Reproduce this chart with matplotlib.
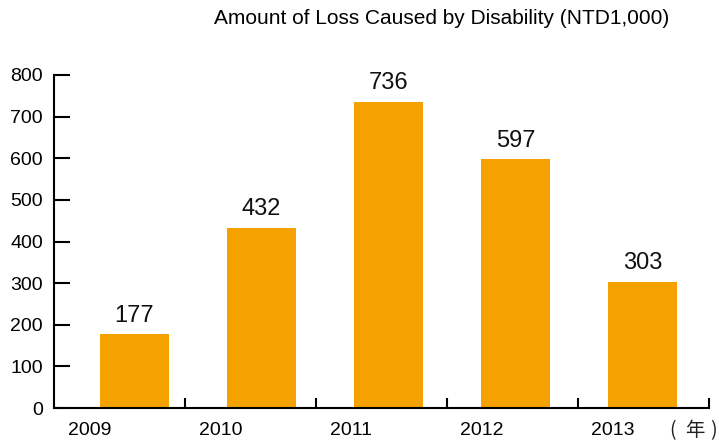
import matplotlib.pyplot as plt

years = ["2009", "2010", "2011", "2012", "2013"]
loss = [177, 432, 736, 597, 303]

plt.rcParams['font.family'] = ['Liberation Sans', 'DejaVu Sans']

fig = plt.figure(figsize=(7.19, 4.45), dpi=100)
ax = fig.add_axes([0.0751, 0.0831, 0.9103, 0.7484])

# bars sit a bit narrower than the category boxes, as in the original
bar_x = [0.6145 + 0.971 * i for i in range(len(years))]
ax.bar(bar_x, loss, width=0.527, color="#F5A100")

for x, v in zip(bar_x, loss):
    ax.text(x, v + 45, str(v), ha="center", va="center", fontsize=17, color="#111111")

ax.set_xlim(0, 5)
ax.set_ylim(0, 800)
ax.set_yticks(range(0, 801, 100))
ax.set_xticks([1, 2, 3, 4, 5])
ax.set_xticklabels([])

for s in ["top", "right"]:
    ax.spines[s].set_visible(False)
for s in ["left", "bottom"]:
    ax.spines[s].set_linewidth(1.5)

ax.tick_params(axis="y", direction="in", length=11.5, width=1.5, pad=8, labelsize=14)
ax.tick_params(axis="x", direction="in", length=7, width=1.5)

for i, y in enumerate(years):
    ax.text((0.271 + i) / 5, -0.068, y, transform=ax.transAxes,
            ha="center", va="center", fontsize=14)

# unit mark "(年)" drawn piece by piece so it fits the right edge
cjk = ["Noto Sans CJK SC", "DejaVu Sans"]
for ch, px in [("(", 672.5), ("年", 695), (")", 713.5)]:
    fig.text(px / 719, 1 - 431 / 445, ch, ha="center", va="center",
             fontsize=14, family=cjk, color="#222222")

fig.text(441.5 / 719, 1 - 19 / 445, "Amount of Loss Caused by Disability (NTD1,000)",
         ha="center", va="center", fontsize=15)

fig.savefig("out.png", dpi=100)
